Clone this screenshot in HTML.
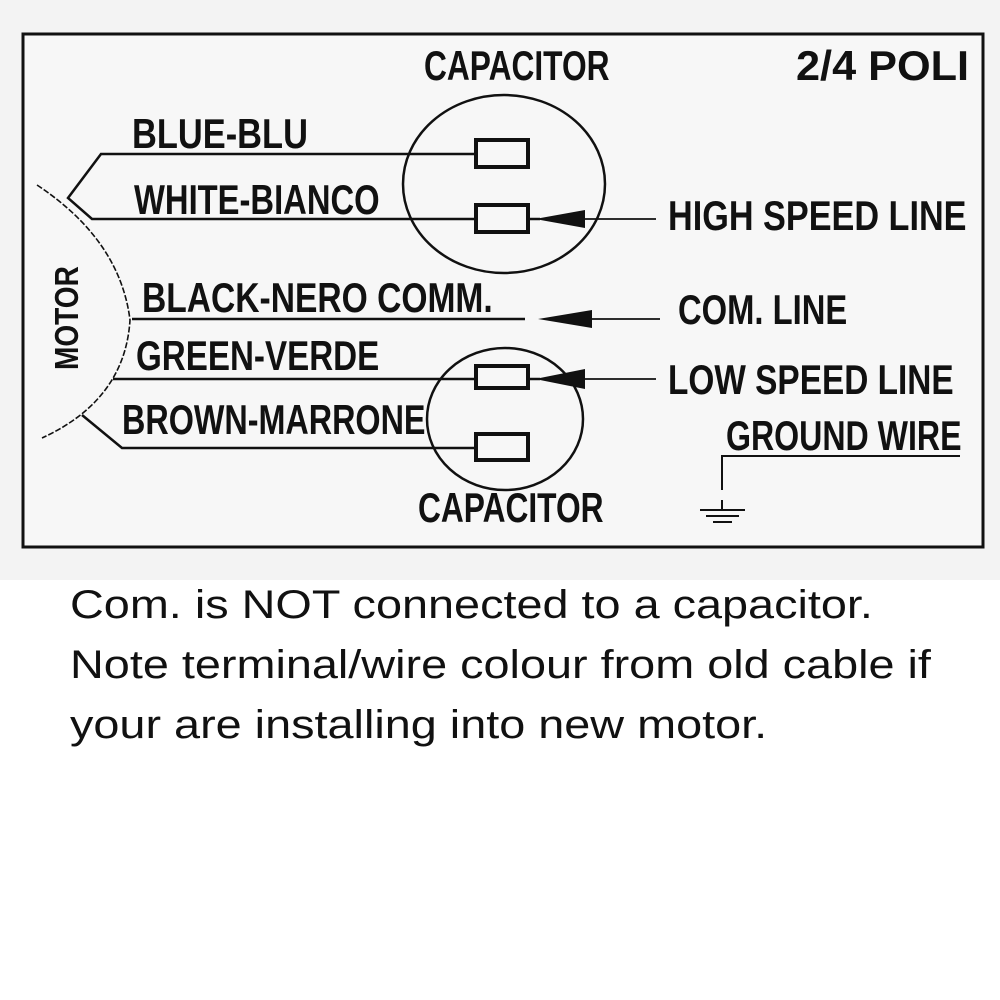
<!DOCTYPE html>
<html><head><meta charset="utf-8"><style>
html,body{margin:0;padding:0;background:#fff}
body{width:1000px;height:1000px;position:relative;overflow:hidden}
svg{position:absolute;left:0;top:0}
.t{font-family:"Liberation Sans",sans-serif;font-weight:bold;font-size:42px;fill:#111}
.b{position:absolute;left:70px;font-family:"Liberation Sans",sans-serif;font-size:40px;color:#111;white-space:nowrap;transform:scale(1.17,1);transform-origin:0 0}
</style></head><body>
<svg width="1000" height="1000" viewBox="0 0 1000 1000">
<rect x="0" y="0" width="1000" height="580" fill="#f3f3f3"/>
<rect x="23" y="34" width="960" height="513" fill="#f7f7f7" stroke="#111" stroke-width="3"/>
<g stroke="#111" stroke-width="2.5" fill="none">
<ellipse cx="504" cy="184" rx="101" ry="89"/>
<ellipse cx="505" cy="419" rx="78" ry="71"/>
<polyline points="475,154 101,154 68,198 92,219 475,219"/>
<line x1="132" y1="319" x2="525" y2="319"/>
<polyline points="475,379 113,379"/>
<polyline points="475,448 122,448 82,415"/>
<line x1="585" y1="219" x2="656" y2="219" stroke-width="1.8"/>
<line x1="592" y1="319" x2="660" y2="319" stroke-width="1.8"/>
<line x1="585" y1="379" x2="656" y2="379" stroke-width="1.8"/>
<line x1="530" y1="219" x2="540" y2="219"/>
<line x1="530" y1="379" x2="540" y2="379"/>
<polyline points="960,456 722,456 722,490" stroke-width="2"/>
<line x1="722" y1="500" x2="722" y2="510" stroke-width="2"/>
<line x1="700" y1="510" x2="745" y2="510" stroke-width="2"/>
<line x1="706" y1="516" x2="739" y2="516" stroke-width="2"/>
<line x1="713" y1="522" x2="732" y2="522" stroke-width="2"/>
<path d="M37,185 Q120,240 130,320 Q125,400 42,438" stroke-width="1.6" stroke-dasharray="6,2"/>
<rect x="476" y="140" width="52" height="27" stroke-width="4"/>
<rect x="476" y="205" width="52" height="27" stroke-width="4"/>
<rect x="476" y="366" width="52" height="22" stroke-width="4"/>
<rect x="476" y="434" width="52" height="26" stroke-width="4"/>
</g>
<g fill="#111">
<polygon points="535,219 585,210 585,228"/>
<polygon points="538,319 592,310 592,328"/>
<polygon points="535,379 585,369 585,389"/>
</g>
<g class="t">
<text x="0" y="0" transform="translate(424,80) scale(0.755,1)">CAPACITOR</text>
<text x="0" y="0" transform="translate(796,80) scale(1.03,1)">2/4 POLI</text>
<text x="0" y="0" transform="translate(132,148) scale(0.82,1)">BLUE-BLU</text>
<text x="0" y="0" transform="translate(134,214) scale(0.78,1)">WHITE-BIANCO</text>
<text x="0" y="0" transform="translate(668,230) scale(0.815,1)">HIGH SPEED LINE</text>
<text x="0" y="0" transform="translate(142,312) scale(0.8,1)">BLACK-NERO COMM.</text>
<text x="0" y="0" transform="translate(678,324) scale(0.78,1)">COM. LINE</text>
<text x="0" y="0" transform="translate(136,370) scale(0.79,1)">GREEN-VERDE</text>
<text x="0" y="0" transform="translate(668,394) scale(0.795,1)">LOW SPEED LINE</text>
<text x="0" y="0" transform="translate(122,434) scale(0.77,1)">BROWN-MARRONE</text>
<text x="0" y="0" transform="translate(726,450) scale(0.765,1)">GROUND WIRE</text>
<text x="0" y="0" transform="translate(418,522) scale(0.755,1)">CAPACITOR</text>
<text x="0" y="0" transform="translate(78,370) rotate(-90) scale(0.85,1)" style="font-size:33px">MOTOR</text>
</g>
</svg>
<div class="b" style="top:583px">Com. is NOT connected to a capacitor.</div>
<div class="b" style="top:643px">Note terminal/wire colour from old cable if</div>
<div class="b" style="top:703px">your are installing into new motor.</div>
</body></html>
